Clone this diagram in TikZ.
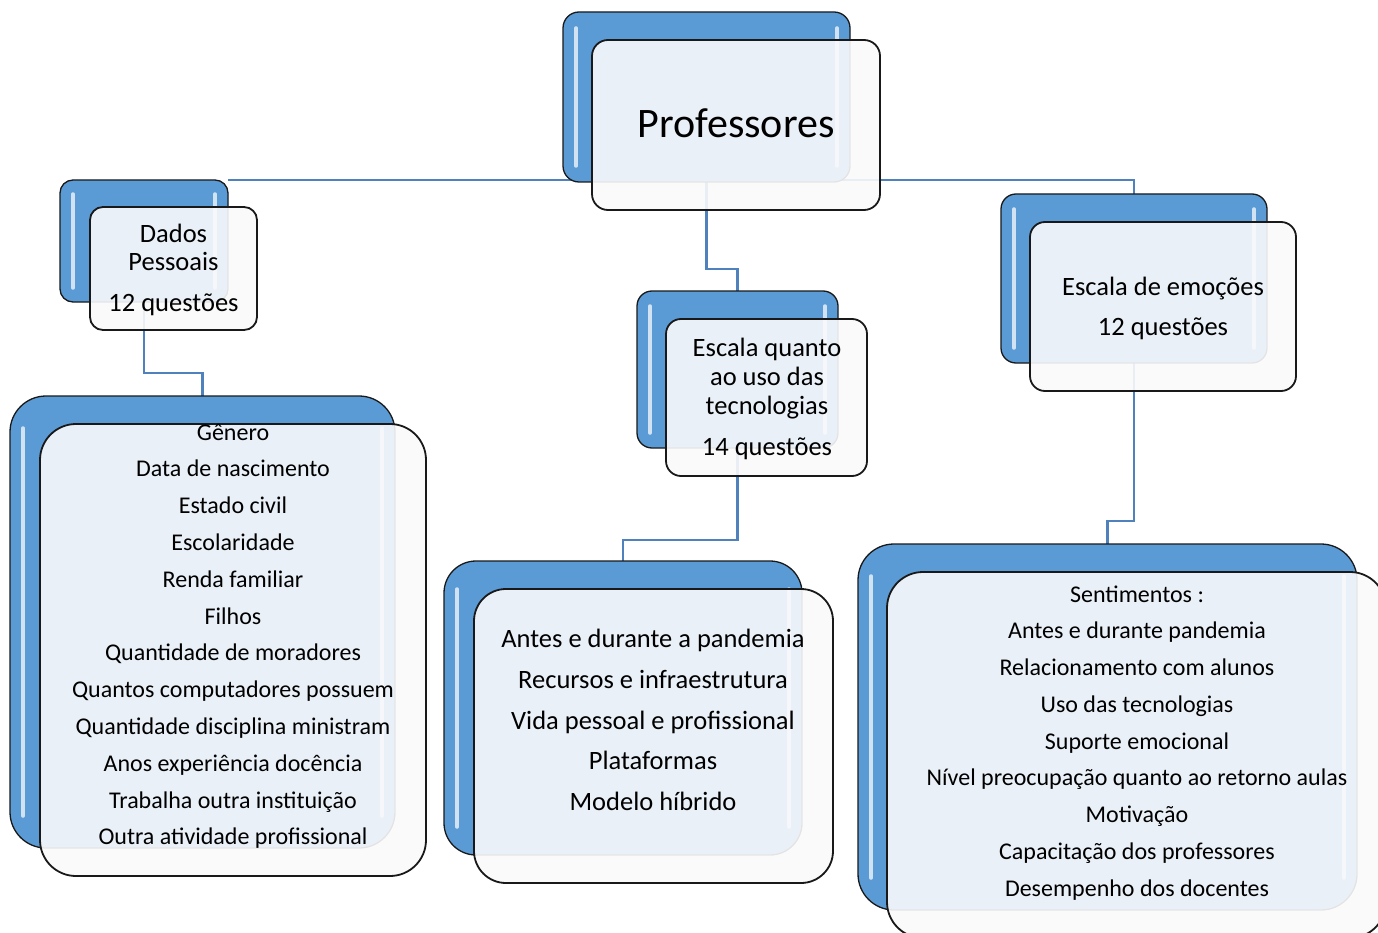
\documentclass[tikz,border=0pt]{standalone}
\usepackage{fontspec}
\setmainfont{Carlito}
\pgfdeclarelayer{bg}
\pgfsetlayers{bg,main}
\definecolor{bluebox}{RGB}{91,155,213}
\definecolor{connc}{RGB}{79,129,189}
\definecolor{frontfill}{RGB}{250,250,251}
\definecolor{darkline}{RGB}{25,25,25}
\tikzset{
  backbox/.style={draw=darkline, line width=1.3pt, fill=bluebox, inner sep=0pt, outer sep=0pt},
  frontbox/.style={draw=darkline, line width=1.8pt, fill=frontfill, fill opacity=0.9, inner sep=0pt, outer sep=0pt},
  connline/.style={draw=connc, line width=2.6pt},
  hl/.style={draw=white!80!bluebox, line width=3.5pt, line cap=round, opacity=0.9},
  bigtxt/.style={font=\fontsize{42}{50}\selectfont, anchor=base, inner sep=0pt},
  midtxt/.style={font=\fontsize{26.5}{30}\selectfont, anchor=base, inner sep=0pt},
  smalltxt/.style={font=\fontsize{24}{28}\selectfont, anchor=base, inner sep=0pt},
}
\newcommand\boxhl[2]{%
  \draw[hl] ([xshift=13pt,yshift=-#2pt]#1.north west) -- ([xshift=13pt,yshift=#2pt]#1.south west);
  \draw[hl] ([xshift=-13pt,yshift=-#2pt]#1.north east) -- ([xshift=-13pt,yshift=#2pt]#1.south east);}
\begin{document}
\begin{tikzpicture}[x=1pt,y=-1pt]
\useasboundingbox (0,0) rectangle (1378,933);
\clip (0,0) rectangle (1378,933);

% Professores
\node[backbox, minimum width=287pt, minimum height=170pt, rounded corners=16pt] (pb) at (706.5,97) {};
\boxhl{pb}{16}
\node[frontbox, minimum width=288pt, minimum height=170pt, rounded corners=16pt] (pf) at (736,125) {};
\node[bigtxt] (tprof) at (736,137.5) {Professores};

% Dados Pessoais
\node[backbox, minimum width=168pt, minimum height=122pt, rounded corners=13pt] (db) at (144,241) {};
\boxhl{db}{14}
\node[frontbox, minimum width=167pt, minimum height=123pt, rounded corners=13pt] (df) at (173.5,268.5) {};
\node[midtxt] (td1) at (173.5,242.5) {Dados};
\node[midtxt] (td2) at (173.5,270.5) {Pessoais};
\node[midtxt] (td3) at (173.5,311.5) {12 questões};

% Escala tecnologias
\node[backbox, minimum width=201pt, minimum height=157pt, rounded corners=15pt] (tb) at (737.5,369.5) {};
\boxhl{tb}{15}
\node[frontbox, minimum width=201pt, minimum height=157pt, rounded corners=15pt] (tf) at (766.5,397.5) {};
\node[midtxt] (tt1) at (767,356.5) {Escala quanto};
\node[midtxt] (tt2) at (767,385.5) {ao uso das};
\node[midtxt] (tt3) at (767,414.5) {tecnologias};
\node[midtxt] (tt4) at (767,455.5) {14 questões};

% Escala de emocoes
\node[backbox, minimum width=266pt, minimum height=169pt, rounded corners=15pt] (eb) at (1134,278.5) {};
\boxhl{eb}{15}
\node[frontbox, minimum width=266pt, minimum height=169pt, rounded corners=15pt] (ef) at (1163,306.5) {};
\node[midtxt] (te1) at (1163,295.5) {Escala de emoções};
\node[midtxt] (te2) at (1163,335.5) {12 questões};

% Left list
\node[backbox, minimum width=385pt, minimum height=452pt, rounded corners=36pt] (lb) at (202.5,622) {};
\boxhl{lb}{32}
\node[frontbox, minimum width=386pt, minimum height=452pt, rounded corners=36pt] (lf) at (233,650) {};
\foreach \t [count=\i] in {Gênero,Data de nascimento,Estado civil,Escolaridade,Renda familiar,Filhos,Quantidade de moradores,Quantos computadores possuem,Quantidade disciplina ministram,Anos experiência docência,Trabalha outra instituição,Outra atividade profissional}
  \node[smalltxt] (ll\i) at (233,{440+36.8*(\i-1)}) {\t};

% Middle list
\node[backbox, minimum width=358pt, minimum height=294pt, rounded corners=32pt] (mb) at (623,708) {};
\boxhl{mb}{28}
\node[frontbox, minimum width=359pt, minimum height=294pt, rounded corners=32pt] (mf) at (653.5,736) {};
\foreach \t [count=\i] in {Antes e durante a pandemia,Recursos e infraestrutura,Vida pessoal e profissional,Plataformas,Modelo híbrido}
  \node[midtxt] (ml\i) at (653,{647.5+40.75*(\i-1)}) {\t};

% Right list
\node[backbox, minimum width=499pt, minimum height=366pt, rounded corners=36pt] (rb) at (1107.5,727) {};
\boxhl{rb}{32}
\node[frontbox, minimum width=499pt, minimum height=366pt, rounded corners=36pt] (rf) at (1136.5,755) {};
\foreach \t [count=\i] in {Sentimentos :,Antes e durante pandemia,Relacionamento com alunos,Uso das tecnologias,Suporte emocional,Nível preocupação quanto ao retorno aulas,Motivação,Capacitação dos professores,Desempenho dos docentes}
  \node[smalltxt] (rl\i) at (1137,{602+36.75*(\i-1)}) {\t};

% Connectors
\begin{pgfonlayer}{bg}
\draw[connline] (db.north east) -| (eb.north);
\draw[connline] (pb.south) |- ([yshift=22pt]tb.north) -- (tb.north);
\draw[connline] (db.south) |- ([yshift=23pt]lb.north) -- (lb.north);
\draw[connline] (tb.south) |- ([yshift=21pt]mb.north) -- (mb.north);
\draw[connline] (eb.south) |- ([yshift=23pt]rb.north) -- (rb.north);
\end{pgfonlayer}
\end{tikzpicture}
\end{document}
